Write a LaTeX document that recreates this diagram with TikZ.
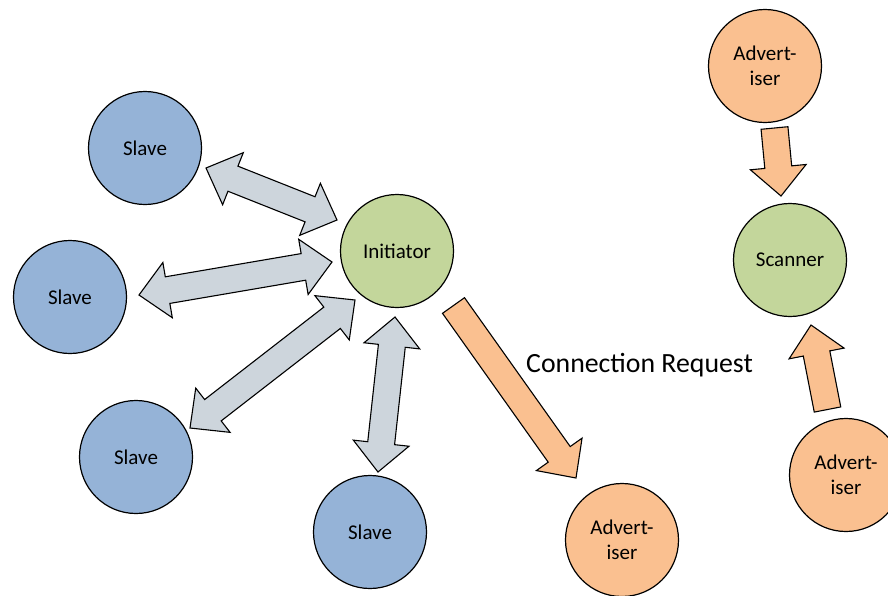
\documentclass[tikz,border=0pt]{standalone}
\usepackage{fontspec}
\setmainfont{Carlito}
\usetikzlibrary{calc}
\definecolor{slavefill}{HTML}{95B3D7}
\definecolor{initfill}{HTML}{C3D69B}
\definecolor{advfill}{HTML}{FAC090}
\definecolor{linkfill}{HTML}{CDD5DC}
\newcommand\hdlen{29pt}
\newcommand\hdw{28pt}
\newcommand\shw{13.5pt}
% two-headed block arrow between two named points
\newcommand\dblblock[2]{%
  \coordinate (pa) at ($(#1)!\hdlen!(#2)$);
  \coordinate (pb) at ($(#2)!\hdlen!(#1)$);
  \filldraw[linkarrow] (#1) -- ($(pa)!\hdw!90:(#2)$) -- ($(pa)!\shw!90:(#2)$)
    -- ($(pb)!\shw!-90:(#1)$) -- ($(pb)!\hdw!-90:(#1)$) -- (#2)
    -- ($(pb)!\hdw!90:(#1)$) -- ($(pb)!\shw!90:(#1)$)
    -- ($(pa)!\shw!-90:(#2)$) -- ($(pa)!\hdw!-90:(#2)$) -- cycle;}
% one-headed block arrow from a tail centre to a tip
\newcommand\oneblock[2]{%
  \coordinate (pb) at ($(#2)!\hdlen!(#1)$);
  \filldraw[advarrow] ($(#1)!\shw!-90:(#2)$) -- ($(pb)!\shw!90:(#1)$)
    -- ($(pb)!\hdw!90:(#1)$) -- (#2) -- ($(pb)!\hdw!-90:(#1)$)
    -- ($(pb)!\shw!-90:(#1)$) -- ($(#1)!\shw!90:(#2)$) -- cycle;}
\begin{document}
\begin{tikzpicture}[x=1pt,y=-1pt,
  dev/.style={circle,draw=black,line width=1.2pt,minimum size=113pt,inner sep=0pt,
    font=\fontsize{21}{24.5}\selectfont,align=center},
  slave/.style={dev,fill=slavefill},
  central/.style={dev,fill=initfill},
  adv/.style={dev,fill=advfill},
  linkarrow/.style={draw=black,fill=linkfill,line width=1.1pt,line join=miter},
  advarrow/.style={draw=black,fill=advfill,line width=1.1pt,line join=miter}]
\useasboundingbox (0,0) rectangle (888,595);

% devices
\node[slave] (s1) at (145,148) {Slave};
\node[slave] (s2) at (70,297) {Slave};
\node[slave] (s3) at (136,457) {Slave};
\node[slave] (s4) at (370,532) {Slave};
\node[central] (init) at (397,251) {Initiator};
\node[adv] (a1) at (622,540) {Advert-\\iser};
\node[central] (scan) at (790,260) {Scanner};
\node[adv] (a2) at (765,66) {Advert-\\iser};
\node[adv] (a3) at (846,475) {Advert-\\iser};

% arrow end points
\coordinate (s1tip) at (206,168);
\coordinate (i1tip) at (337,220);
\coordinate (s2tip) at (139,295);
\coordinate (i2tip) at (332,262);
\coordinate (s3tip) at (190,428);
\coordinate (i3tip) at (355,300);
\coordinate (i4tip) at (395,317);
\coordinate (s4tip) at (378,472);
\coordinate (itail) at (453.5,305.5);
\coordinate (a1tip) at (576,478);
\coordinate (a2tail) at (774.5,128);
\coordinate (sctop) at (781,196);
\coordinate (a3tail) at (827.5,409.5);
\coordinate (scbot) at (811,325);

% initiator <-> slaves
\dblblock{s1tip}{i1tip}
\dblblock{s2tip}{i2tip}
\dblblock{s3tip}{i3tip}
\dblblock{i4tip}{s4tip}

% advertising and connection request
\oneblock{itail}{a1tip}
\oneblock{a2tail}{sctop}
\oneblock{a3tail}{scbot}

\node[font=\fontsize{27.8}{33}\selectfont,anchor=base west,inner sep=0pt] (req) at (526,372) {Connection Request};
\end{tikzpicture}
\end{document}
